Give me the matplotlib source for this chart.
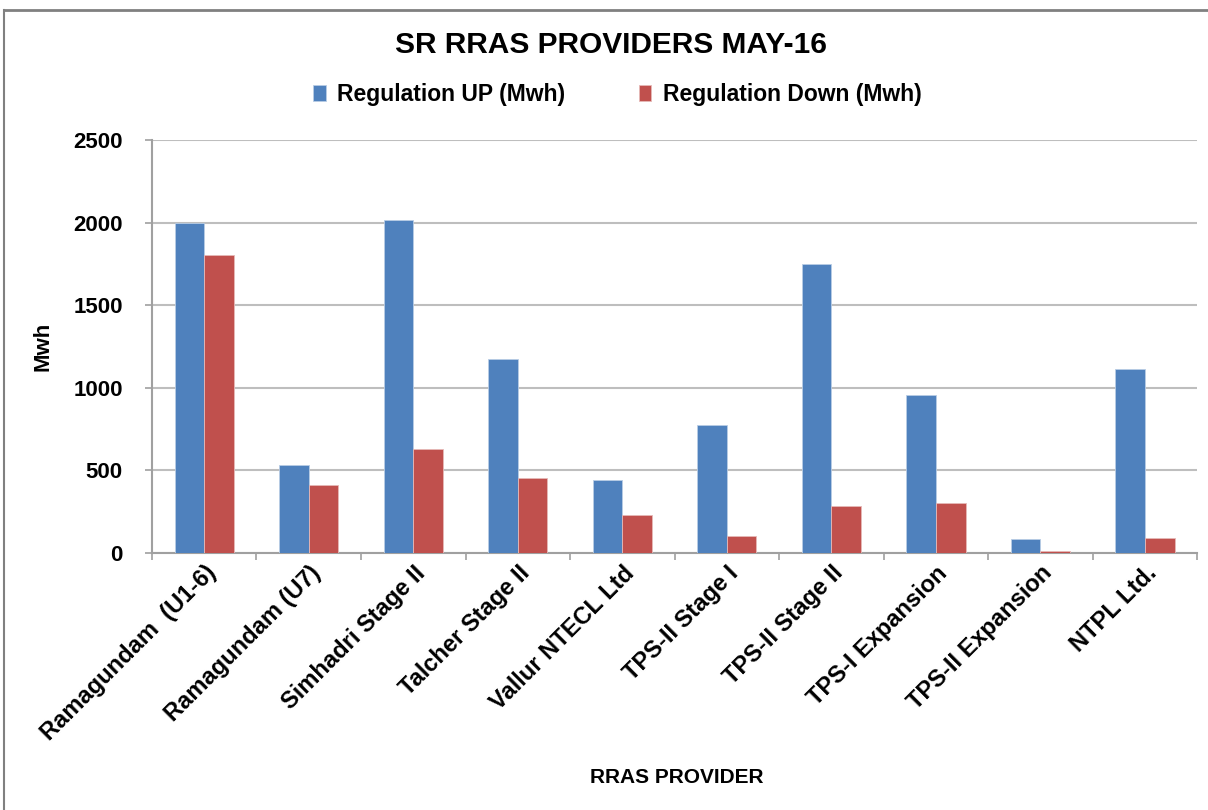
import numpy as np
import matplotlib.pyplot as plt
from matplotlib.lines import Line2D

plt.rcParams['font.family'] = ['Liberation Sans', 'DejaVu Sans']

providers = ["Ramagundam  (U1-6)", "Ramagundam (U7)", "Simhadri Stage II", "Talcher Stage II",
             "Vallur NTECL Ltd", "TPS-II Stage I", "TPS-II Stage II", "TPS-I Expansion",
             "TPS-II Expansion", "NTPL Ltd."]
reg_up = [2000, 530, 2018, 1174, 440, 772, 1748, 958, 83, 1111]
reg_down = [1801, 409, 632, 453, 227, 101, 286, 302, 14, 91]
yticks = [0, 500, 1000, 1500, 2000, 2500]

blue = '#4F81BD'
red = '#C0504D'

fig = plt.figure(figsize=(12.08, 8.10), dpi=100)
ax = fig.add_axes([0.1258, 0.3173, 0.991 - 0.1258, 0.8272 - 0.3173])

x = np.arange(len(providers))
w = 0.284
ax.bar(x - w / 2, reg_up, w, color=blue, edgecolor='#B9CDE5', linewidth=0.6,
       label='Regulation UP (Mwh)', zorder=3)
ax.bar(x + w / 2, reg_down, w, color=red, edgecolor='#E6B9B8', linewidth=0.6,
       label='Regulation Down (Mwh)', zorder=3)

ax.set_xlim(-0.5, len(providers) - 0.5)
ax.set_ylim(0, 2500)
ax.set_yticks(yticks)
ax.set_yticklabels([str(v) for v in yticks], fontsize=16, fontweight='bold')
ax.grid(axis='y', color='#BEBEBE', linewidth=1.5, zorder=0)

ax.set_xticks(x)
ax.set_xticklabels(providers, rotation=45, ha='right', rotation_mode='anchor',
                   fontsize=17, fontweight='bold')
ax.tick_params(axis='x', which='major', length=0, pad=6)
ax.set_xticks(np.arange(len(providers) + 1) - 0.5, minor=True)
ax.tick_params(axis='x', which='minor', length=5, color='#A0A0A0', width=1.2)
ax.tick_params(axis='y', length=5, color='#A0A0A0', width=1.2, pad=16)

for s in ['top', 'right']:
    ax.spines[s].set_visible(False)
for s in ['left', 'bottom']:
    ax.spines[s].set_color('#A0A0A0')
    ax.spines[s].set_linewidth(1.5)

ax.set_ylabel('Mwh', fontsize=16, fontweight='bold', labelpad=14)
fig.text(0.56, 0.04, 'RRAS PROVIDER', ha='center', va='center', fontsize=15, fontweight='bold')
fig.text(0.506, 0.944, 'SR RRAS PROVIDERS MAY-16', ha='center', va='center', fontsize=21.5, fontweight='bold')

ax.legend(loc='center', bbox_to_anchor=(0.511, 0.883), bbox_transform=fig.transFigure,
          ncol=2, frameon=False, prop={'weight': 'bold', 'size': 16.5},
          handlelength=0.55, handleheight=0.7, columnspacing=3.2, handletextpad=0.5)

# chart frame
fig.add_artist(Line2D([0.003, 0.999], [0.988, 0.988], color='#808080', linewidth=2,
                      transform=fig.transFigure))
fig.add_artist(Line2D([0.003, 0.003], [0.0, 0.988], color='#808080', linewidth=1.5,
                      transform=fig.transFigure))

fig.savefig('out.png', dpi=100)
